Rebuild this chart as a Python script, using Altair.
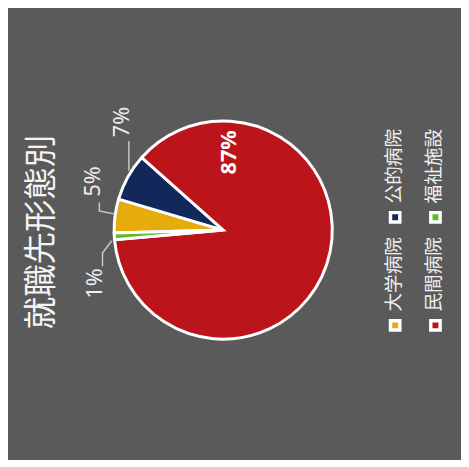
import math
import altair as alt
import pandas as pd

# ---- data ----
categories = ["大学病院", "公的病院", "民間病院", "福祉施設"]
values = [5, 7, 87, 1]
labels = ["5%", "7%", "87%", "1%"]
colors = ["#E6AC0C", "#13285A", "#BC141B", "#5CB934"]
TITLE = "就職先形態別"

# ---- layout / style ----
W, H = 461, 452
CX, CY = 219, 222          # pie centre inside the view
R = 111                    # pie radius
START = math.radians(268.5)
BG = "#5A5A5A"
LEADER = "#C8C8C8"
JP = "Noto Sans CJK JP"

df = pd.DataFrame({"category": categories, "value": values,
                   "label": labels, "idx": list(range(len(categories)))})

color_scale = alt.Scale(domain=categories, range=colors)
theta_scale = alt.Scale(range=[START, START + 2 * math.pi])

pie = alt.Chart(df).mark_arc(outerRadius=R, stroke="white", strokeWidth=3).encode(
    theta=alt.Theta("value:Q", stack=True, scale=theta_scale),
    color=alt.Color("category:N", scale=color_scale, legend=None),
    order=alt.Order("idx:Q"),
    x=alt.value(CX), y=alt.value(CY),
)

# edge point of each slice (middle angle), computed from the data
base = alt.Chart(df).transform_window(
    cum="sum(value)", sort=[alt.SortField("idx")], frame=[None, 0]
).transform_joinaggregate(total="sum(value)").transform_calculate(
    mid=f"{START} + 2*PI*(datum.cum - datum.value/2)/datum.total"
).transform_calculate(
    ex=f"{CX} + {R}*sin(datum.mid)", ey=f"{CY} - {R}*cos(datum.mid)"
)

def seg(cat, a, b):
    return base.transform_filter(alt.datum.category == cat).transform_calculate(
        x1=f"datum.ex + ({a[0]})", y1=f"datum.ey + ({a[1]})",
        x2=f"datum.ex + ({b[0]})", y2=f"datum.ey + ({b[1]})",
    ).mark_rule(color=LEADER, strokeWidth=1.5, strokeCap="round").encode(
        x=alt.X("x1:Q", scale=None, axis=None), y=alt.Y("y1:Q", scale=None, axis=None),
        x2="x2:Q", y2="y2:Q",
    )

def lab(cat, off, bold=False, color="#EEEEEE"):
    return base.transform_filter(alt.datum.category == cat).transform_calculate(
        lx=f"datum.ex + ({off[0]})", ly=f"datum.ey + ({off[1]})",
    ).mark_text(angle=270, fontSize=22, font="Noto Sans", color=color,
                fontWeight="bold" if bold else "normal",
                align="center", baseline="middle").encode(
        x=alt.X("lx:Q", scale=None, axis=None), y=alt.Y("ly:Q", scale=None, axis=None),
        text="label:N",
    )

leaders = [
    seg("大学病院", (-1, -2), (-16, -5)), seg("大学病院", (-16, -5), (-16, -13)),
    seg("公的病院", (1, -7), (1, -36)),
    seg("福祉施設", (-3, 5), (-12, 17)), seg("福祉施設", (-12, 17), (-12, 30)),
]
texts = [
    lab("大学病院", (-22, -35)),
    lab("公的病院", (-6, -56)),
    lab("福祉施設", (-20, 48)),
    lab("民間病院", (-99, -114), bold=True, color="white"),
]

# legend (two columns, rotated like the rest)
leg = alt.Chart(df).transform_calculate(
    col="floor(datum.idx/2)", item="datum.idx % 2"
).transform_calculate(
    sx="394 + 41*datum.col", sy="319 - 110*datum.item"
)
leg_sq = leg.mark_square(size=90, stroke="white", strokeWidth=3.5, opacity=1).encode(
    x=alt.X("sx:Q", scale=None, axis=None), y=alt.Y("sy:Q", scale=None, axis=None),
    fill=alt.Color("category:N", scale=color_scale, legend=None),
)
leg_tx = leg.transform_calculate(tx="datum.sx - 1.5", ty="datum.sy - 52").mark_text(
    angle=270, fontSize=19, font=JP, color="#F0F0F0", align="center", baseline="middle"
).encode(
    x=alt.X("tx:Q", scale=None, axis=None), y=alt.Y("ty:Q", scale=None, axis=None),
    text="category:N",
)

title = alt.Chart(pd.DataFrame({"t": [TITLE]})).mark_text(
    angle=270, fontSize=33, font=JP, color="#F4F4F4", align="center", baseline="middle"
).encode(x=alt.value(35), y=alt.value(224), text="t:N")

chart = alt.layer(pie, *leaders, *texts, leg_sq, leg_tx, title).properties(
    width=W, height=H, background=BG, padding=0
).configure_view(stroke=None)

chart.save("out.html", embed_options={"renderer": "svg", "actions": False})
